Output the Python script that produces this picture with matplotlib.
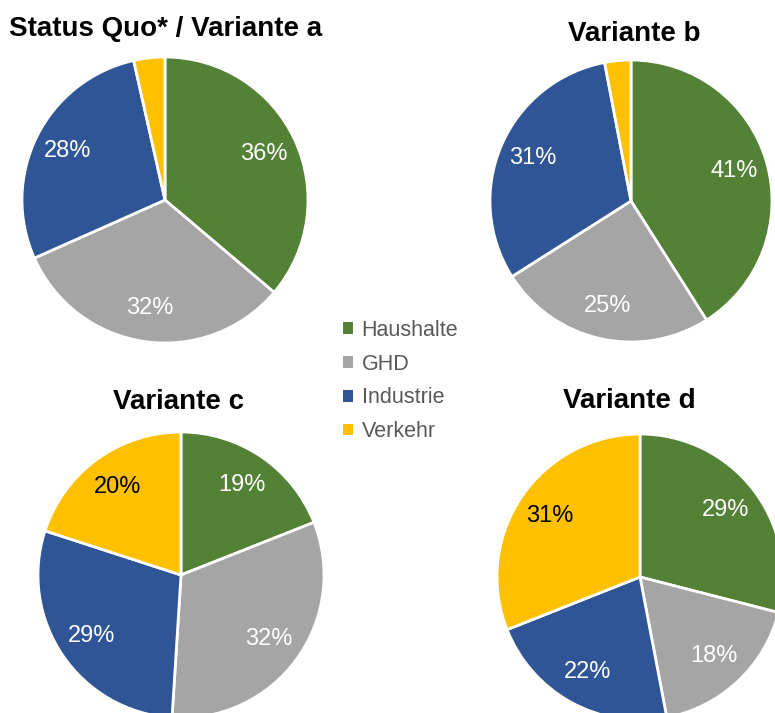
import matplotlib.pyplot as plt
from matplotlib.patches import Patch

plt.rcParams['font.family'] = ['Liberation Sans', 'DejaVu Sans']

W, H = 775, 713

sectors = ['Haushalte', 'GHD', 'Industrie', 'Verkehr']
colors = ['#538135', '#A5A5A5', '#2F5597', '#FFC000']

titles = ['Status Quo* / Variante a', 'Variante b', 'Variante c', 'Variante d']
shares_a = [36, 32, 28, 3.5]
shares_b = [41, 25, 31, 3]
shares_c = [19, 32, 29, 20]
shares_d = [29, 18, 22, 31]


def draw_pie(fig, values, title, cx, cy, r, tx, ty):
    # place a square axes so the pie of radius 1 lands at (cx, cy) px
    ax = fig.add_axes([(cx - r) / W, (H - cy - r) / H, 2 * r / W, 2 * r / H])
    wedges, texts, autotexts = ax.pie(
        values, colors=colors, startangle=90, counterclock=False,
        autopct=lambda p: f'{p:.0f}%' if p >= 5 else '',
        pctdistance=0.76, radius=1,
        wedgeprops=dict(edgecolor='white', linewidth=2),
        textprops=dict(fontsize=17, color='white'))
    autotexts[3].set_color('black')
    ax.set_xlim(-1, 1)
    ax.set_ylim(-1, 1)
    ax.set_aspect('equal', adjustable='box')
    ax.axis('off')
    # baseline-anchored title
    fig.text(tx / W, 1 - ty / H, title, fontsize=20, fontweight='bold',
             ha='center', va='baseline')


def main():
    fig = plt.figure(figsize=(W / 100, H / 100), dpi=100)

    draw_pie(fig, shares_a, titles[0], 165, 200, 143, 166, 36)
    draw_pie(fig, shares_b, titles[1], 631, 201, 141, 634, 41)
    draw_pie(fig, shares_c, titles[2], 181, 575, 143, 179, 409)
    draw_pie(fig, shares_d, titles[3], 640, 577, 143, 629, 408)

    handles = [Patch(facecolor=c, edgecolor='none') for c in colors]
    fig.legend(handles, sectors, loc='center left',
               bbox_to_anchor=(324 / W, 1 - 381 / H), frameon=False,
               fontsize=15.5, labelcolor='#595959', handlelength=0.45,
               handleheight=0.45, handletextpad=0.4, labelspacing=0.6)

    fig.savefig('out.png', dpi=100)


if __name__ == '__main__':
    main()
